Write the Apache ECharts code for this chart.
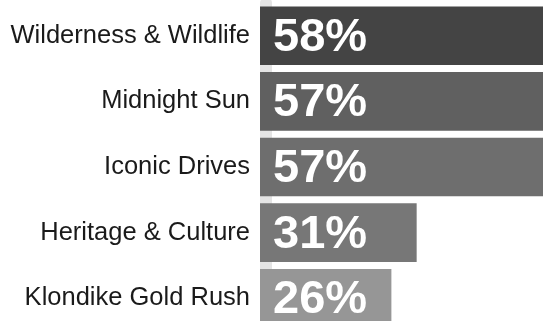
<!DOCTYPE html>
<html>
<head>
<meta charset="utf-8">
<script src="https://cdn.jsdelivr.net/npm/echarts@6/dist/echarts.min.js"></script>
<style>
html,body{margin:0;padding:0;background:#fff;}
#chart{width:543px;height:321px;}
</style>
</head>
<body>
<div id="chart"></div>
<script>
var categories = ["Wilderness & Wildlife", "Midnight Sun", "Iconic Drives", "Heritage & Culture", "Klondike Gold Rush"];
var values = [58, 57, 57, 31, 26];
var barColors = ["#444444", "#606060", "#6e6e6e", "#777777", "#969696"];

var chart = echarts.init(document.getElementById('chart'), null, {renderer: 'canvas'});
chart.setOption({
  animation: false,
  grid: {left: 260, right: 0, top: 3, height: 328, containLabel: false, outerBoundsMode: 'none'},
  xAxis: {type: 'value', min: 0, max: 56, show: false},
  yAxis: [{
    type: 'category',
    data: categories,
    inverse: true,
    axisLine: {show: false},
    axisTick: {show: false},
    axisLabel: {margin: 10, fontSize: 25.5, color: '#1a1a1a', fontFamily: 'Liberation Sans', padding: [6, 0, 0, 0]}
  }, {
    type: 'category',
    data: categories,
    inverse: true,
    position: 'left',
    offset: -6,
    axisLine: {show: true, lineStyle: {color: '#e4e4e4', width: 12}},
    axisTick: {show: false},
    axisLabel: {show: false}
  }],
  series: [{
    type: 'bar',
    data: values.map(function (v, i) { return {value: v, itemStyle: {color: barColors[i]}}; }),
    barCategoryGap: '10.7%',
    label: {
      show: true,
      position: 'insideLeft',
      distance: 13,
      formatter: '{c}%',
      color: '#ffffff',
      fontSize: 47,
      fontWeight: 'bold',
      fontFamily: 'Liberation Sans',
      offset: [0, 2]
    }
  }]
});
</script>
</body>
</html>
